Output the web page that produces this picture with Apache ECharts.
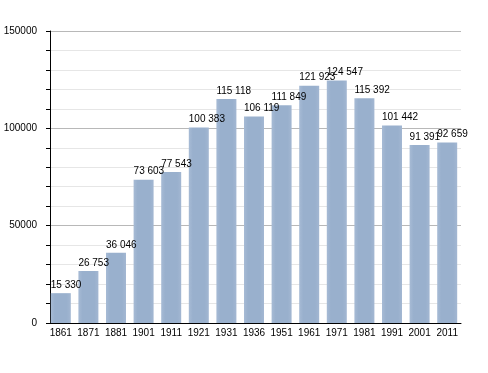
<!DOCTYPE html>
<html><head><meta charset="utf-8">
<script src="https://cdn.jsdelivr.net/npm/echarts@6/dist/echarts.min.js"></script>
<style>html,body{margin:0;padding:0;background:#fff}#c{width:488px;height:373px}</style>
</head><body><div id="c"></div>
<script>
const years = ['1861','1871','1881','1901','1911','1921','1931','1936','1951','1961','1971','1981','1991','2001','2011'];
const population = [15330, 26753, 36046, 73603, 77543, 100383, 115118, 106119, 111849, 121923, 124547, 115392, 101442, 91391, 92659];
const yTicks = [0, 50000, 100000, 150000];

const chart = echarts.init(document.getElementById('c'), null, {renderer: 'canvas'});
const fmt = v => String(v).replace(/\B(?=(\d{3})+(?!\d))/g, ' ');
chart.setOption({
  animation: false,
  textStyle: {fontFamily: 'Liberation Sans, Arial, sans-serif'},
  grid: {left: 47, right: 27, top: 31, bottom: 50},
  xAxis: {
    type: 'category', data: years,
    axisLine: {lineStyle: {color: '#000', width: 1}},
    axisTick: {show: false},
    axisLabel: {color: '#000', fontSize: 10, margin: 5, interval: 0}
  },
  yAxis: {
    type: 'value', min: 0, max: 150000, interval: 10000, offset: -3,
    axisLine: {show: true, lineStyle: {color: '#000', width: 1}},
    axisTick: {show: true, length: 4, lineStyle: {color: '#000'}},
    axisLabel: {color: '#000', fontSize: 10, margin: 13,
      formatter: v => yTicks.includes(v) ? String(v) : ''},
    splitLine: {show: true, lineStyle: {color: ['#b8b8b8', '#e6e6e6', '#e6e6e6', '#e6e6e6', '#e6e6e6'], width: 1}}
  },
  series: [{
    type: 'bar', data: population, barWidth: 20,
    itemStyle: {color: new echarts.graphic.LinearGradient(0, 0, 1, 0, [
      {offset: 0, color: '#a7bbd5'}, {offset: 0.2, color: '#99b0cd'},
      {offset: 0.8, color: '#99b0cd'}, {offset: 1, color: '#a3b7d2'}])},
    label: {show: true, position: 'top', distance: 3, align: 'left', offset: [-10, 0], color: '#000', fontSize: 10,
      formatter: p => fmt(p.value)}
  }]
});
</script></body></html>
